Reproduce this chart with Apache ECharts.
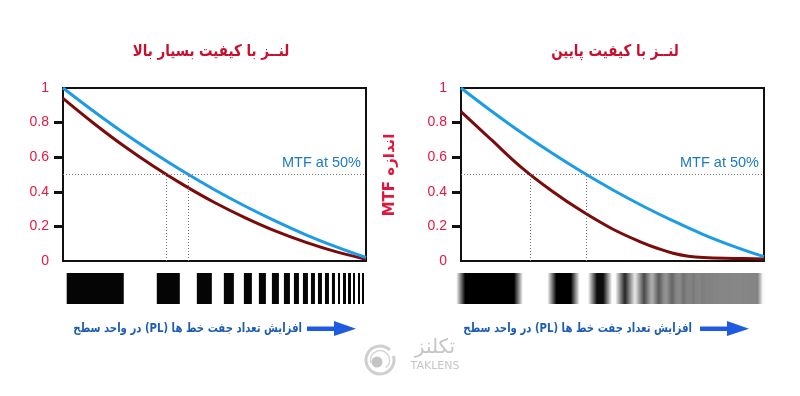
<!DOCTYPE html>
<html>
<head>
<meta charset="utf-8">
<script src="https://cdn.jsdelivr.net/npm/echarts@6/dist/echarts.min.js"></script>
<style>html,body{margin:0;padding:0;background:#fff}#c{width:800px;height:396px}</style>
</head>
<body>
<div id="c"></div>
<script>
// ---------- data ----------
const titleLeft = 'لنــز با کیفیت بسیار بالا';
const titleRight = 'لنــز با کیفیت پایین';
const yAxisTitle = 'MTF اندازه';
const levelLabel = 'MTF at 50%';
const arrowText = 'افزایش تعداد جفت خط ها (PL) در واحد سطح';
const yTicks = [0, 0.2, 0.4, 0.6, 0.8, 1];

const xsLeft = [0, 0.1, 0.2, 0.3, 0.4, 0.5, 0.6, 0.7, 0.8, 0.9, 1.0];
const blueLeft = [1.0, 0.867, 0.741, 0.624, 0.514, 0.412, 0.318, 0.232, 0.153, 0.083, 0.02];
const redLeft  = [0.94, 0.798, 0.666, 0.546, 0.437, 0.338, 0.251, 0.174, 0.109, 0.054, 0.01];

const xsBlueRight = [0, 0.1, 0.2, 0.3, 0.4, 0.5, 0.6, 0.7, 0.8, 0.9, 1.0];
const blueRight = [1.0, 0.867, 0.741, 0.624, 0.514, 0.412, 0.318, 0.232, 0.153, 0.085, 0.025];
const xsRedRight = [0, 0.1, 0.2, 0.3, 0.4, 0.5, 0.6, 0.65, 0.7, 0.75, 0.8, 0.9, 1.0];
const redRight = [0.863, 0.701, 0.54, 0.405, 0.287, 0.185, 0.105, 0.072, 0.045, 0.028, 0.02, 0.015, 0.012];

const mtfLevel = 0.5;
const crossLeft = [0.341, 0.414];
const crossRight = [0.228, 0.414];

// line-pair target (strip units)
const stripMax = 298;
const barStarts = [0, 90, 130, 157, 177, 192, 205, 217, 227, 236, 244, 251, 258, 265, 271, 276, 281, 286, 291, 295];
const barEnds   = [57, 113, 145, 167, 185, 199, 212, 223, 232, 241, 248, 255, 262, 268, 273, 279, 284, 288, 293, 297];
// contrast kept by the poor lens, per bar
const poorContrast = [1, 1, 0.95, 0.8, 0.65, 0.5, 0.4, 0.3, 0.22, 0.18, 0.14, 0.11, 0.09, 0.08, 0.06, 0.06, 0.05, 0.05, 0.05, 0.05];
// grey haze of the blurred target: [position, darkness]
const poorHaze = [[0, 0], [150, 0], [175, 0.14], [200, 0.32], [230, 0.4], [260, 0.43], [293, 0.45], [298, 0]];

// ---------- build ----------
const zipXY = (xs, ys) => xs.map((x, i) => [x, ys[i]]);
const RED_LABEL = '#e8173f';
const BLUE = '#1c9be6';
const MAROON = '#7a0b0b';
const rtl = s => '\u202B' + s + '\u202C';

function plotYAxis(gi) {
  return {
    gridIndex: gi, type: 'value', min: 0, max: 1, interval: 0.2,
    axisLine: { show: false },
    axisTick: { show: true, inside: false, length: 9, lineStyle: { color: '#111', width: 3 }, customValues: [0.2, 0.4, 0.6, 0.8] },
    axisLabel: { color: RED_LABEL, fontSize: 14, fontFamily: 'Arial, "Liberation Sans", sans-serif', margin: 14,
      customValues: yTicks, formatter: v => String(Math.round(v * 10) / 10) },
    splitLine: { show: false }
  };
}
function plotXAxis(gi) {
  return { gridIndex: gi, type: 'value', min: 0, max: 1, show: false, splitLine: { show: false } };
}
function levelMarks(cross) {
  const data = [{ yAxis: mtfLevel, label: { show: true, position: 'insideEndTop', formatter: levelLabel, color: '#1a7ac6', fontSize: 14.5, fontFamily: 'Arial, "Liberation Sans", sans-serif', distance: [5, 4] } }];
  cross.forEach(x => data.push([{ coord: [x, 0], label: { show: false } }, { coord: [x, mtfLevel] }]));
  return {
    silent: true, symbol: 'none', animation: false,
    lineStyle: { color: '#777', width: 1, type: [1, 2] },
    label: { show: false },
    data: data
  };
}
function blurredRenderer(blur) {
  return (params, api) => {
    const a = api.value(2);
    const p0 = api.coord([api.value(0), 1]);
    const p1 = api.coord([api.value(1), 0]);
    const x0 = p0[0] - blur, x1 = p1[0] + blur, w = x1 - x0;
    const e = Math.min(0.5, (2 * blur) / w);
    return { type: 'rect', shape: { x: x0, y: p0[1], width: w, height: p1[1] - p0[1] },
      style: { fill: new echarts.graphic.LinearGradient(0, 0, 1, 0, [
        { offset: 0, color: 'rgba(0,0,0,0)' },
        { offset: e, color: 'rgba(0,0,0,' + a + ')' },
        { offset: 1 - e, color: 'rgba(0,0,0,' + a + ')' },
        { offset: 1, color: 'rgba(0,0,0,0)' }]) } };
  };
}

const option = {
  animation: false,
  backgroundColor: '#fff',
  grid: [
    { left: 63, top: 88, width: 303, height: 173, show: true, borderColor: '#111', borderWidth: 2, backgroundColor: 'transparent' },
    { left: 461, top: 88, width: 303, height: 173, show: true, borderColor: '#111', borderWidth: 2, backgroundColor: 'transparent' },
    { left: 66.7, top: 273, width: 298.3, height: 31 },
    { left: 460.7, top: 273, width: 302, height: 31 }
  ],
  xAxis: [plotXAxis(0), plotXAxis(1),
    { gridIndex: 2, type: 'value', min: 0, max: stripMax, show: false },
    { gridIndex: 3, type: 'value', min: 0, max: stripMax, show: false }],
  yAxis: [plotYAxis(0), plotYAxis(1),
    { gridIndex: 2, type: 'value', min: 0, max: 1, show: false },
    { gridIndex: 3, type: 'value', min: 0, max: 1, show: false }],
  series: [
    { type: 'line', xAxisIndex: 0, yAxisIndex: 0, data: zipXY(xsLeft, redLeft), smooth: 0.4, showSymbol: false, clip: false,
      lineStyle: { color: MAROON, width: 3 }, z: 3 },
    { type: 'line', xAxisIndex: 0, yAxisIndex: 0, data: zipXY(xsLeft, blueLeft), smooth: 0.4, showSymbol: false, clip: false,
      lineStyle: { color: BLUE, width: 3 }, z: 4, markLine: levelMarks(crossLeft) },
    { type: 'line', xAxisIndex: 1, yAxisIndex: 1, data: zipXY(xsRedRight, redRight), smooth: 0.4, showSymbol: false, clip: false,
      lineStyle: { color: MAROON, width: 3 }, z: 3 },
    { type: 'line', xAxisIndex: 1, yAxisIndex: 1, data: zipXY(xsBlueRight, blueRight), smooth: 0.4, showSymbol: false, clip: false,
      lineStyle: { color: BLUE, width: 3 }, z: 4, markLine: levelMarks(crossRight) },
    // sharp target
    { type: 'custom', xAxisIndex: 2, yAxisIndex: 2, silent: true,
      data: barStarts.map((s, i) => [s, barEnds[i]]),
      renderItem: (params, api) => {
        const p0 = api.coord([api.value(0), 1]);
        const p1 = api.coord([api.value(1), 0]);
        return { type: 'rect', shape: { x: p0[0], y: p0[1], width: p1[0] - p0[0], height: p1[1] - p0[1] }, style: { fill: '#050505' } };
      } },
    // blurred target: haze
    { type: 'custom', xAxisIndex: 3, yAxisIndex: 3, silent: true,
      data: [[0, stripMax]],
      renderItem: (params, api) => {
        const p0 = api.coord([api.value(0), 1]);
        const p1 = api.coord([api.value(1), 0]);
        return { type: 'rect', shape: { x: p0[0], y: p0[1], width: p1[0] - p0[0], height: p1[1] - p0[1] },
          style: { fill: new echarts.graphic.LinearGradient(0, 0, 1, 0,
            poorHaze.map(h => ({ offset: h[0] / stripMax, color: 'rgba(0,0,0,' + h[1] + ')' }))) } };
      } },
    // blurred target: bars
    { type: 'custom', xAxisIndex: 3, yAxisIndex: 3, silent: true,
      data: barStarts.map((s, i) => [s, barEnds[i], poorContrast[i]]),
      renderItem: blurredRenderer(4.5) }
  ],
  graphic: [
    { type: 'text', x: 211, y: 52, scaleX: 0.84, style: { text: rtl(titleLeft), textAlign: 'center', textVerticalAlign: 'middle', fill: '#c8102e', font: 'bold 16px "DejaVu Sans", sans-serif' } },
    { type: 'text', x: 615, y: 52, scaleX: 0.84, style: { text: rtl(titleRight), textAlign: 'center', textVerticalAlign: 'middle', fill: '#c8102e', font: 'bold 16px "DejaVu Sans", sans-serif' } },
    { type: 'text', x: 390, y: 175, rotation: Math.PI / 2, style: { text: yAxisTitle, textAlign: 'center', textVerticalAlign: 'middle', fill: '#e0163c', font: 'bold 15px "DejaVu Sans", sans-serif' } },
    // arrow captions
    { type: 'text', x: 302, y: 329, scaleX: 0.81, style: { text: rtl(arrowText), textAlign: 'right', textVerticalAlign: 'middle', fill: '#1c5cb2', font: 'bold 12.5px "DejaVu Sans", sans-serif' } },
    { type: 'text', x: 692, y: 329, scaleX: 0.81, style: { text: rtl(arrowText), textAlign: 'right', textVerticalAlign: 'middle', fill: '#1c5cb2', font: 'bold 12.5px "DejaVu Sans", sans-serif' } },
    // arrows
    { type: 'rect', shape: { x: 307, y: 326.5, width: 30, height: 4.5 }, style: { fill: '#1f5be0' } },
    { type: 'polygon', shape: { points: [[334, 321], [356, 328.7], [334, 336]] }, style: { fill: '#1f5be0' } },
    { type: 'rect', shape: { x: 700, y: 326.5, width: 30, height: 4.5 }, style: { fill: '#1f5be0' } },
    { type: 'polygon', shape: { points: [[727, 321], [749, 328.7], [727, 336]] }, style: { fill: '#1f5be0' } },
    // logo
    { type: 'arc', shape: { cx: 380, cy: 360, r: 14, startAngle: -0.3, endAngle: Math.PI * 1.75 }, style: { stroke: '#cfcfcf', lineWidth: 3, fill: null } },
    { type: 'arc', shape: { cx: 380, cy: 360, r: 9.5, startAngle: Math.PI * 0.9, endAngle: Math.PI * 2.3 }, style: { stroke: '#d8d8d8', lineWidth: 1.5, fill: null } },
    { type: 'circle', shape: { cx: 377, cy: 362, r: 5.5 }, style: { fill: '#c4c4c4' } },
    { type: 'text', x: 435, y: 348, style: { text: 'تکلنز', textAlign: 'center', textVerticalAlign: 'middle', fill: '#c6c6c6', font: '20px "DejaVu Sans", sans-serif' } },
    { type: 'text', x: 435, y: 366, style: { text: 'TAKLENS', textAlign: 'center', textVerticalAlign: 'middle', fill: '#c6c6c6', font: '11px "DejaVu Sans", sans-serif' } }
  ]
};

const chart = echarts.init(document.getElementById('c'), null, { renderer: 'canvas' });
chart.setOption(option);
</script>
</body>
</html>
